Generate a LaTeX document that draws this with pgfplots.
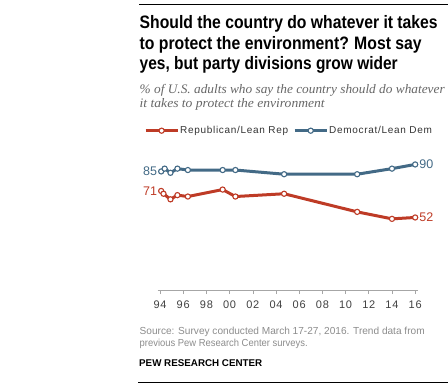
\documentclass[border=0pt]{standalone}
\usepackage{pgfplots}
\pgfplotsset{compat=1.18}
\usepackage{fontspec}
\setmainfont{Liberation Sans}
\newfontfamily\titlefont{Liberation Sans}
\newfontfamily\subfont{Liberation Serif}
\newfontfamily\legfont{Liberation Sans}[LetterSpace=7]
\definecolor{rep}{HTML}{BE3B26}
\definecolor{dem}{HTML}{436A86}
\definecolor{subgray}{HTML}{666666}
\definecolor{srcgray}{HTML}{8C8C8C}
\newcommand{\tline}[2]{\resizebox{#1}{\height}{\titlefont\fontsize{18}{20}\selectfont\bfseries #2}}
\newcommand{\sline}[2]{\resizebox{#1}{\height}{\subfont\itshape\fontsize{13}{15}\selectfont #2}}
\newcommand{\srcline}[2]{\resizebox{#1}{\height}{\fontsize{10.2}{12}\selectfont #2}}
\begin{document}
\begin{tikzpicture}
\useasboundingbox (0pt,0pt) rectangle (448pt,-388pt);
\draw[line width=1pt] (139pt,-4pt) -- (448pt,-4pt);
\node[anchor=base west, inner sep=0pt] at (139.5pt,-28.5pt) {\tline{298pt}{Should the country do whatever it takes}};
\node[anchor=base west, inner sep=0pt] at (139.5pt,-49.5pt) {\tline{282pt}{to protect the environment?\hspace{6pt}Most say}};
\node[anchor=base west, inner sep=0pt] at (139.5pt,-69.5pt) {\tline{258pt}{yes, but party divisions grow wider}};
\node[anchor=base west, inner sep=0pt, text=subgray] at (139.5pt,-93pt) {\sline{305pt}{\% of U.S. adults who say the country should do whatever}};
\node[anchor=base west, inner sep=0pt, text=subgray] at (139.5pt,-107pt) {\sline{185pt}{it takes to protect the environment}};
\begin{axis}[
  at={(157.7pt,-290pt)}, anchor=south west,
  scale only axis, width=259.8pt, height=139.5pt,
  xmin=1993.8, xmax=2016.2, ymin=0, ymax=100,
  axis x line*=bottom, axis y line=none,
  xtick={1994,1996,...,2016},
  xticklabels={94,96,98,00,02,04,06,08,10,12,14,16},
  ytick=\empty,
  tick align=outside, major tick length=4pt,
  axis line style={draw=gray!70, line width=0.6pt},
  xtick style={draw=gray!70, line width=0.6pt},
  xticklabel style={font=\legfont\fontsize{11}{13}\selectfont, text=black!75, yshift=-3pt},
  clip=false,
  legend columns=2,
  legend style={at={(-0.053,1.142)}, anchor=west, draw=none, fill=none, inner sep=0pt,
    nodes={inner xsep=1pt, inner ysep=1pt},
    font=\legfont\fontsize{10}{12}\selectfont, text=black!80,
    /tikz/every even column/.append style={column sep=4pt}},
  legend cell align=left,
  legend image code/.code={\draw[mark repeat=2,mark phase=2,#1] plot coordinates {(0pt,0pt) (16pt,0pt) (32pt,0pt)};},
]
\addplot[rep, line width=3pt, mark=*, mark size=2.6pt, mark options={fill=white, draw=rep, line width=1.1pt}] coordinates {
(1994.1,71) (1994.3,69) (1994.9,65) (1995.5,68) (1996.4,67) (1999.4,72) (2000.5,67) (2004.7,69) (2011.0,56) (2014.0,51) (2016.0,52)};
\addlegendentry{Republican/Lean Rep}
\addplot[dem, line width=3pt, mark=*, mark size=2.6pt, mark options={fill=white, draw=dem, line width=1.1pt}] coordinates {
(1994.1,85) (1994.4,87) (1994.9,84) (1995.5,87) (1996.4,86) (1999.4,86) (2000.5,86) (2004.7,83) (2011.0,83) (2014.0,87) (2016.0,90)};
\addlegendentry{Democrat/Lean Dem}
\node[anchor=east, text=dem, inner sep=0pt, font=\fontsize{12.5}{14}\selectfont] at ([xshift=-4pt]axis cs:1994.1,85) {85};
\node[anchor=east, text=rep, inner sep=0pt, font=\fontsize{12.5}{14}\selectfont] at ([xshift=-4pt]axis cs:1994.1,71) {71};
\node[anchor=west, text=dem, inner sep=0pt, font=\fontsize{12.5}{14}\selectfont] at ([xshift=4pt]axis cs:2016,90) {90};
\node[anchor=west, text=rep, inner sep=0pt, font=\fontsize{12.5}{14}\selectfont] at ([xshift=4pt]axis cs:2016,52) {52};
\end{axis}
\node[anchor=base west, inner sep=0pt, text=srcgray] at (139.5pt,-334pt) {\srcline{285pt}{Source: Survey conducted March 17-27, 2016. Trend data from}};
\node[anchor=base west, inner sep=0pt, text=srcgray] at (139.5pt,-346pt) {\srcline{168pt}{previous Pew Research Center surveys.}};
\node[anchor=base west, inner sep=0pt] at (139pt,-366pt) {\fontsize{9.8}{12}\selectfont\bfseries PEW RESEARCH CENTER};
\draw[line width=1pt] (138pt,-382pt) -- (448pt,-382pt);
\end{tikzpicture}
\end{document}
